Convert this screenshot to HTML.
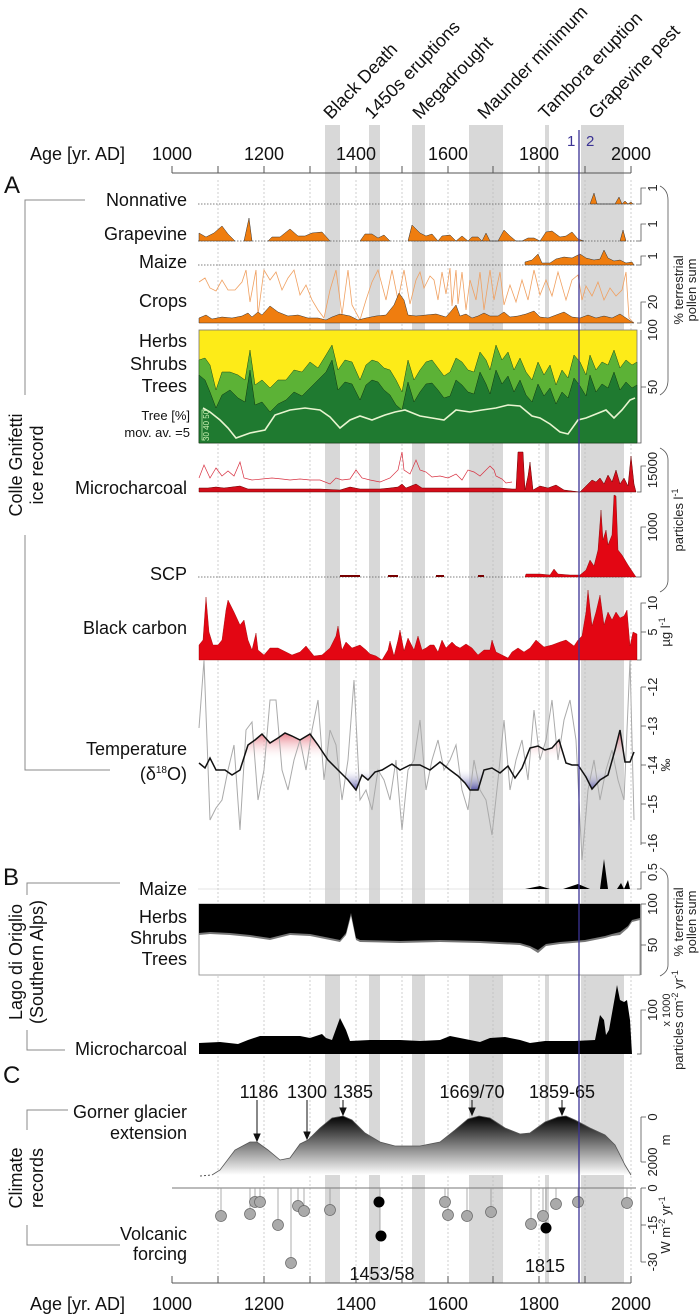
<!DOCTYPE html>
<html><head><meta charset="utf-8"><style>
html,body{margin:0;padding:0;background:#fff}
svg{display:block;font-family:"Liberation Sans",Arial,sans-serif}
</style></head><body>
<svg width="700" height="1316" viewBox="0 0 700 1316" xmlns="http://www.w3.org/2000/svg">
<defs>
<linearGradient id="gl" x1="0" y1="0" x2="0" y2="1"><stop offset="0" stop-color="#000"/><stop offset="1" stop-color="#fff"/></linearGradient>
<linearGradient id="rd" x1="0" y1="0" x2="0" y2="1"><stop offset="0" stop-color="#e05060" stop-opacity="0.9"/><stop offset="1" stop-color="#fff" stop-opacity="0"/></linearGradient>
<linearGradient id="bl" x1="0" y1="1" x2="0" y2="0"><stop offset="0" stop-color="#4a48a0" stop-opacity="0.9"/><stop offset="1" stop-color="#fff" stop-opacity="0"/></linearGradient>
</defs>
<!-- bands -->
<g fill="#d8d8d8">
<rect x="325" y="125" width="15" height="1158"/>
<rect x="369" y="125" width="11" height="1158"/>
<rect x="412" y="125" width="13" height="1158"/>
<rect x="469" y="125" width="34" height="1158"/>
<rect x="545" y="125" width="4" height="1158"/>
<rect x="581" y="125" width="43" height="1158"/>
</g>
<!-- event labels -->
<g font-size="18" fill="#111">
<text transform="translate(331,120) rotate(-46)">Black Death</text>
<text transform="translate(372,120) rotate(-46)">1450s eruptions</text>
<text transform="translate(420,120) rotate(-46)">Megadrought</text>
<text transform="translate(485,120) rotate(-46)">Maunder minimum</text>
<text transform="translate(546,120) rotate(-46)">Tambora eruption</text>
<text transform="translate(596,120) rotate(-46)">Grapevine pest</text>
</g>
<!-- grid -->
<g stroke="#bbb" stroke-width="0.7" stroke-dasharray="2,2">
<line x1="218" y1="180" x2="218" y2="1283"/><line x1="264" y1="180" x2="264" y2="1283"/><line x1="310" y1="180" x2="310" y2="1283"/><line x1="356" y1="180" x2="356" y2="1283"/><line x1="402" y1="180" x2="402" y2="1283"/><line x1="448" y1="180" x2="448" y2="1283"/><line x1="493" y1="180" x2="493" y2="1283"/><line x1="539" y1="180" x2="539" y2="1283"/><line x1="585" y1="180" x2="585" y2="1283"/><line x1="631" y1="180" x2="631" y2="1283"/>
</g>
<!-- top axis -->
<g font-size="18" fill="#111">
<text x="30" y="160">Age [yr. AD]</text>
<text x="172" y="160" text-anchor="middle">1000</text><text x="264" y="160" text-anchor="middle">1200</text><text x="356" y="160" text-anchor="middle">1400</text><text x="448" y="160" text-anchor="middle">1600</text><text x="539" y="160" text-anchor="middle">1800</text><text x="631" y="160" text-anchor="middle">2000</text>
</g>
<g stroke="#555" stroke-width="1"><line x1="172" y1="173" x2="631" y2="173"/>
<line x1="172" y1="166" x2="172" y2="173"/><line x1="218" y1="166" x2="218" y2="173"/><line x1="264" y1="166" x2="264" y2="173"/><line x1="310" y1="166" x2="310" y2="173"/><line x1="356" y1="166" x2="356" y2="173"/><line x1="402" y1="166" x2="402" y2="173"/><line x1="448" y1="166" x2="448" y2="173"/><line x1="493" y1="166" x2="493" y2="173"/><line x1="539" y1="166" x2="539" y2="173"/><line x1="585" y1="166" x2="585" y2="173"/><line x1="631" y1="166" x2="631" y2="173"/></g>
<text x="567" y="146" font-size="15" fill="#3b3394">1</text><text x="586" y="146" font-size="15" fill="#3b3394">2</text>
<text x="4" y="193" font-size="24" fill="#111">A</text>
<text x="3" y="885" font-size="24" fill="#111">B</text>
<text x="3" y="1083" font-size="24" fill="#111">C</text>

<!-- left labels -->
<g font-size="18" fill="#111" text-anchor="end">
<text x="187" y="206">Nonnative</text>
<text x="187" y="240">Grapevine</text>
<text x="187" y="268">Maize</text>
<text x="187" y="307">Crops</text>
<text x="187" y="347">Herbs</text>
<text x="187" y="370">Shrubs</text>
<text x="187" y="392">Trees</text>
<text x="190" y="420" font-size="13">Tree [%]</text>
<text x="190" y="437" font-size="13">mov. av. =5</text>
<text x="187" y="494">Microcharcoal</text>
<text x="187" y="580">SCP</text>
<text x="187" y="634">Black carbon</text>
<text x="187" y="755">Temperature</text>
<text x="187" y="780">(δ<tspan font-size="10" dy="-7">18</tspan><tspan dy="7">O)</tspan></text>
<text x="187" y="895">Maize</text>
<text x="187" y="923">Herbs</text>
<text x="187" y="944">Shrubs</text>
<text x="187" y="965">Trees</text>
<text x="187" y="1055">Microcharcoal</text>
<text x="187" y="1118">Gorner glacier</text>
<text x="187" y="1139">extension</text>
<text x="187" y="1240">Volcanic</text>
<text x="187" y="1260">forcing</text>
</g>
<!-- left brackets -->
<g stroke="#888" stroke-width="1" fill="none">
<polyline points="85,200 25,200 25,395"/><polyline points="25,535 25,770 110,770"/>
<polyline points="120,883 27,883 27,895"/><polyline points="27,1030 27,1050 65,1050"/>
<polyline points="68,1110 27,1110 27,1130"/><polyline points="27,1225 27,1245 120,1245"/>
</g>
<g font-size="18" fill="#111" text-anchor="middle">
<text transform="translate(22,465) rotate(-90)">Colle Gnifetti</text>
<text transform="translate(43,465) rotate(-90)">ice record</text>
<text transform="translate(22,962) rotate(-90)">Lago di Origlio</text>
<text transform="translate(43,962) rotate(-90)">(Southern Alps)</text>
<text transform="translate(22,1178) rotate(-90)">Climate</text>
<text transform="translate(43,1178) rotate(-90)">records</text>
</g>

<!-- baselines dotted -->
<g stroke="#555" stroke-width="0.8" stroke-dasharray="1.5,1.5">
<line x1="198" y1="204" x2="637" y2="204"/><line x1="198" y1="241" x2="637" y2="241"/><line x1="198" y1="265" x2="637" y2="265"/><line x1="198" y1="577" x2="637" y2="577"/>
</g>
<!-- Nonnative -->
<path d="M590,204 L594,193 L597,204 L615,204 L619,197 L622,204 L625,201 L628,204 L631,202 L633,204Z" fill="#ef7d0f" stroke="#333" stroke-width="0.5"/>
<!-- Grapevine -->
<path fill="#ef7d0f" stroke="#333" stroke-width="0.5" d="M199,241 L199,233 L206,237 L214,233 L222,226 L228,234 L235,241Z M244,241 L249,218 L252,241Z M268,241 L272,237 L280,237 L290,229 L298,236 L305,236 L312,233 L322,232 L330,241Z M360,241 L365,234 L372,234 L378,238 L384,235 L390,241Z M408,241 L412,225 L420,233 L426,236 L432,234 L438,241 L442,236 L450,235 L456,241 L462,236 L468,241 L472,237 L478,237 L482,241 L486,233 L490,241 L498,241 L504,230 L510,236 L516,241 L522,241 L528,238 L534,238 L540,241 L546,232 L552,231 L560,237 L566,236 L572,232 L578,239 L584,241Z M620,241 L623,230 L626,241Z"/>
<!-- Maize A -->
<path fill="#ef7d0f" stroke="#333" stroke-width="0.5" d="M525,265 L525,262 L532,260 L538,254 L542,263 L550,263 L556,259 L564,257 L572,258 L580,254 L586,258 L594,260 L600,259 L604,250 L608,258 L614,261 L620,260 L626,263 L632,262 L634,265Z"/>
<!-- Crops -->
<polyline fill="none" stroke="#f0a060" stroke-width="0.8" points="199,282 205,278 210,288 216,291 222,280 228,290 235,290 242,282 246,270 250,302 256,270 258,315 264,270 270,280 276,272 282,290 288,278 294,270 300,295 306,285 312,300 318,310 324,318 330,290 336,270 342,315 348,270 352,305 360,320 366,300 372,282 378,270 386,300 392,270 398,300 404,270 410,304 416,280 420,272 424,288 430,276 434,280 438,300 442,272 446,294 450,268 452,306 456,270 458,304 462,272 466,310 470,280 476,300 480,272 484,310 490,270 494,300 500,272 504,305 510,285 516,302 522,280 528,300 534,270 540,295 546,280 552,296 558,272 566,300 572,280 578,275 582,300 586,286 592,296 598,282 604,300 610,288 616,296 622,290 626,272 629,318 634,323"/>
<path fill="#ef7d0f" stroke="#333" stroke-width="0.5" d="M199,323 L199,318 L206,315 L212,319 L222,317 L232,318 L242,316 L248,313 L252,317 L258,312 L262,315 L270,306 L278,312 L288,316 L298,315 L308,318 L318,318 L326,320 L332,317 L340,314 L350,316 L358,320 L366,318 L376,316 L386,315 L394,305 L399,293 L404,300 L408,315 L416,316 L426,315 L436,314 L446,317 L452,310 L456,305 L460,316 L466,314 L472,318 L478,316 L484,313 L490,316 L498,316 L504,312 L510,317 L518,316 L526,314 L534,311 L540,317 L548,318 L556,315 L564,312 L572,317 L580,318 L588,315 L596,318 L604,316 L612,318 L620,314 L626,318 L632,322 L634,323Z"/>
<!-- Pollen A -->
<rect x="199" y="330" width="438" height="113" fill="#fdeb18" stroke="#777" stroke-width="0.8"/>
<polygon fill="#5cb236" stroke="#1a4a1a" stroke-width="0.5" points="199,443 199,360 205,358 210,365 216,390 222,372 230,372 238,375 245,380 250,350 255,385 262,380 270,388 278,380 286,380 294,370 302,372 310,362 318,368 326,355 332,345 338,370 345,360 352,362 360,380 366,365 372,360 378,362 384,368 390,370 396,380 402,392 408,360 414,380 420,370 426,362 432,360 438,368 444,376 450,372 456,358 462,362 468,370 474,372 480,352 486,360 490,370 496,345 502,360 508,352 514,370 520,358 526,372 532,380 538,362 544,375 550,365 556,385 562,370 568,378 574,355 580,362 586,375 590,355 596,370 602,362 608,365 614,350 620,368 626,360 632,365 637,362 637,443"/>
<polygon fill="#1f7a30" stroke="#103510" stroke-width="0.5" points="199,443 199,375 205,380 210,392 216,408 222,395 230,390 238,398 245,402 250,370 255,405 262,402 270,412 278,404 286,400 294,392 302,396 310,388 318,380 326,372 332,360 338,390 345,382 352,384 360,400 366,385 372,380 378,382 384,390 390,395 396,405 402,410 408,382 414,402 420,392 426,384 432,383 438,390 444,398 450,396 456,380 462,385 468,392 474,394 480,372 486,384 490,394 496,370 502,384 508,376 514,392 520,380 526,395 532,402 538,384 544,396 550,388 556,404 562,392 568,398 574,378 580,386 586,396 590,375 596,392 602,384 608,388 614,372 620,390 626,382 632,388 637,385 637,443"/>
<polyline fill="none" stroke="#e8f5d0" stroke-width="1.6" points="203,408 210,412 220,420 228,428 236,438 250,433 265,430 275,415 290,410 305,408 320,410 330,417 340,428 350,420 360,416 372,420 385,415 395,412 405,410 420,416 432,418 444,420 456,410 470,412 482,410 496,408 508,405 520,406 532,416 540,418 550,424 560,432 568,434 578,420 586,418 596,414 606,410 614,418 622,410 630,400 635,398"/>
<g stroke="#c8f0b0" stroke-width="0.7" fill="none"><polyline points="205,410 202,410 202,440 205,440"/></g>
<text transform="translate(209,441) rotate(-90)" font-size="8" fill="#c8f0b0">30 40 50</text>
<!-- Microcharcoal A -->
<polyline fill="none" stroke="#d83040" stroke-width="0.7" points="199,478 204,465 210,478 216,468 222,476 228,471 234,476 240,462 244,478 252,480 262,479 272,478 282,479 290,480 300,479 310,480 320,480 330,484 336,478 342,480 350,479 356,470 362,478 370,480 380,482 390,478 398,470 402,452 404,470 410,474 416,460 420,470 426,472 432,477 440,476 448,478 456,474 462,480 468,470 474,472 480,476 486,470 490,466 494,470 496,476 502,479 506,483 512,482"/>
<path fill="#d40d1a" stroke="#600" stroke-width="0.5" d="M199,492 L199,488 L208,488 L216,487 L224,488 L232,487 L240,486 L248,489 L260,489 L280,489 L300,489 L320,489 L340,490 L350,487 L360,489 L380,489 L390,488 L398,487 L402,484 L406,488 L416,484 L422,488 L440,488 L460,488 L480,488 L500,488 L512,489 L516,489 L518,452 L523,452 L525,490 L528,476 L530,462 L533,490 L540,486 L548,488 L556,485 L564,490 L572,491 L580,492 L586,486 L592,480 L596,482 L600,478 L604,484 L608,475 L612,482 L616,470 L620,484 L624,478 L628,486 L631,456 L634,484 L636,492Z"/>
<!-- SCP -->
<path fill="#e30613" stroke="#700" stroke-width="0.4" d="M525,577 L526,574 L540,574 L550,575 L554,569 L558,574 L570,575 L580,575 L586,570 L590,560 L594,566 L598,550 L601,510 L603,540 L606,530 L608,545 L612,535 L614,495 L616,496 L618,550 L622,555 L628,565 L634,574 L636,577Z"/>
<g fill="#700"><rect x="340" y="575" width="20" height="2"/><rect x="388" y="575" width="10" height="2"/><rect x="436" y="575" width="8" height="2"/><rect x="478" y="575" width="6" height="2"/></g>
<!-- Black carbon -->
<path fill="#e30613" stroke="#900" stroke-width="0.4" d="M199,660 L199,645 L203,640 L206,597 L209,632 L213,645 L218,645 L222,640 L226,610 L228,600 L234,612 L240,625 L244,620 L248,640 L252,650 L256,633 L258,650 L264,655 L270,648 L278,648 L286,652 L292,655 L300,652 L306,646 L314,656 L322,655 L330,648 L336,636 L338,626 L342,650 L346,642 L352,648 L360,645 L366,650 L370,654 L376,656 L382,660 L388,650 L390,641 L394,656 L398,640 L400,630 L404,651 L408,638 L414,650 L418,636 L422,650 L426,648 L430,645 L434,645 L438,652 L442,640 L446,648 L452,642 L456,646 L460,648 L466,644 L472,648 L478,655 L484,650 L490,650 L492,640 L496,652 L502,655 L508,658 L512,652 L518,648 L524,652 L530,648 L536,640 L544,647 L552,645 L560,642 L566,640 L574,646 L578,640 L582,636 L586,612 L588,590 L592,626 L596,612 L600,595 L604,625 L608,612 L612,620 L616,612 L620,618 L624,616 L627,610 L630,646 L633,632 L637,634 L637,660Z"/>
<!-- Temperature -->
<path fill="url(#rd)" d="M244,760 L248,745 L255,740 L262,734 L270,743 L278,738 L285,733 L292,736 L300,740 L310,734 L318,745 L326,760Z M530,760 L530,748 L538,746 L545,750 L552,748 L559,740 L564,760Z M614,760 L615,750 L620,730 L624,760Z"/>
<path fill="url(#bl)" d="M340,768 L348,780 L356,790 L362,775 L368,780 L375,772 L378,768Z M455,768 L458,776 L465,783 L470,790 L478,790 L484,770 L486,768Z M580,768 L586,777 L592,789 L600,780 L608,775 L612,768Z"/>
<polyline fill="none" stroke="#aaa" stroke-width="1" points="199,728 204,660 210,820 216,808 222,800 228,770 234,745 240,830 246,730 252,722 258,800 264,770 270,700 276,700 282,770 288,790 294,760 300,740 306,770 312,730 318,700 324,780 330,730 336,745 342,800 348,760 354,680 360,800 366,790 372,810 378,770 384,780 390,800 396,760 402,830 408,770 414,760 420,720 426,790 432,760 438,740 444,770 450,760 456,745 462,790 468,810 474,760 480,790 486,800 492,835 498,780 504,720 510,790 516,760 522,740 528,780 534,710 540,760 546,740 552,700 558,760 564,720 570,700 576,740 582,860 588,790 594,760 600,800 606,770 612,750 618,780 624,800 630,660 634,820"/>
<polyline fill="none" stroke="#111" stroke-width="1.5" points="199,763 205,768 210,758 216,770 225,770 232,775 240,770 248,745 255,740 262,734 270,743 278,738 285,733 292,736 300,740 310,734 318,745 328,760 338,770 348,780 356,790 362,775 368,780 375,772 382,770 392,764 400,770 410,765 420,765 430,770 440,762 450,770 458,776 465,783 470,790 478,790 484,770 492,768 500,773 508,766 515,778 522,768 530,748 538,746 545,750 552,748 559,740 566,763 572,765 578,765 586,777 592,789 600,780 608,775 615,750 620,730 625,762 630,762 634,752"/>
<!-- B Maize -->
<line x1="198" y1="889" x2="637" y2="889" stroke="#ccc" stroke-width="0.6"/>
<path fill="#000" d="M525,889 L540,886 L550,889 L563,889 L578,884 L590,889 L600,889 L604,859 L608,889 L617,889 L621,883 L624,889 L628,880 L630,889Z"/>
<!-- B pollen -->
<rect x="199" y="904" width="441" height="71" fill="#fff" stroke="#888" stroke-width="0.8"/>
<polygon fill="#777" points="199,904 640,904 640,920 632,922 628,928 620,935 612,936 605,938 595,940 585,942 560,944 546,946 538,953 530,948 520,945 480,943 440,942 400,943 360,942 356,940 351,916 346,935 340,942 310,936 290,935 270,940 250,937 230,935 210,934 199,935"/>
<polygon fill="#000" points="199,904 640,904 640,918 632,920 628,926 620,932 612,934 605,936 595,938 585,940 560,942 546,944 538,950 530,946 520,943 480,941 440,940 400,941 360,940 356,938 351,913 346,933 340,940 310,934 290,933 270,938 250,935 230,933 210,932 199,933"/>
<!-- B microcharcoal -->
<path fill="#000" d="M199,1054 L199,1043 L220,1042 L238,1044 L248,1040 L260,1036 L280,1036 L300,1036 L310,1038 L322,1034 L326,1038 L332,1040 L340,1018 L346,1030 L350,1041 L370,1040 L400,1040 L420,1041 L440,1040 L450,1036 L460,1038 L480,1042 L490,1038 L505,1037 L520,1040 L530,1043 L545,1041 L560,1041 L575,1041 L595,1040 L600,1015 L604,1020 L606,1035 L609,1030 L614,1002 L617,985 L620,1000 L624,1002 L627,1000 L630,1020 L632,1054Z"/>
<!-- Glacier -->
<path fill="url(#gl)" d="M212,1175 L220,1170 L235,1150 L250,1142 L257,1142 L268,1150 L280,1160 L290,1158 L300,1144 L308,1140 L320,1128 L332,1118 L343,1116 L352,1120 L365,1133 L380,1142 L395,1146 L420,1146 L440,1142 L455,1130 L468,1119 L479,1116 L490,1118 L505,1128 L520,1134 L530,1133 L545,1122 L558,1117 L566,1116 L575,1120 L590,1128 L605,1135 L615,1145 L625,1165 L631,1175Z"/>
<path fill="none" stroke="#555" stroke-width="0.8" d="M212,1175 L220,1170 L235,1150 L250,1142 L257,1142 L268,1150 L280,1160 L290,1158 L300,1144 L308,1140 L320,1128 L332,1118 L343,1116 L352,1120 L365,1133 L380,1142 L395,1146 L420,1146 L440,1142 L455,1130 L468,1119 L479,1116 L490,1118 L505,1128 L520,1134 L530,1133 L545,1122 L558,1117 L566,1116 L575,1120 L590,1128 L605,1135 L615,1145 L625,1165 L631,1175"/>
<line x1="200" y1="1176" x2="212" y2="1175" stroke="#555" stroke-dasharray="2,2"/>
<g stroke="#111" stroke-width="1" fill="#111">
<line x1="257" y1="1100" x2="257" y2="1138"/><polygon points="254,1134 260,1134 257,1141"/>
<line x1="307" y1="1100" x2="307" y2="1136"/><polygon points="304,1132 310,1132 307,1139"/>
<line x1="343" y1="1100" x2="343" y2="1112"/><polygon points="340,1108 346,1108 343,1115"/>
<line x1="472" y1="1100" x2="472" y2="1112"/><polygon points="469,1108 475,1108 472,1115"/>
<line x1="562" y1="1100" x2="562" y2="1112"/><polygon points="559,1108 565,1108 562,1115"/>
</g>
<g font-size="18" fill="#111" text-anchor="middle">
<text x="259" y="1098">1186</text><text x="307" y="1098">1300</text><text x="353" y="1098">1385</text><text x="472" y="1098">1669/70</text><text x="562" y="1098">1859-65</text>
<text x="382" y="1280">1453/58</text><text x="545" y="1272">1815</text>
</g>
<!-- Volcanic -->
<line x1="172" y1="1188" x2="636" y2="1188" stroke="#777" stroke-width="1"/>
<g stroke="#999" stroke-width="0.8">
<line x1="221" y1="1188" x2="221" y2="1216"/><line x1="255" y1="1188" x2="255" y2="1202"/><line x1="250" y1="1188" x2="250" y2="1214"/><line x1="260" y1="1188" x2="260" y2="1202"/><line x1="278" y1="1188" x2="278" y2="1225"/><line x1="291" y1="1188" x2="291" y2="1263"/><line x1="298" y1="1188" x2="298" y2="1206"/><line x1="304" y1="1188" x2="304" y2="1211"/><line x1="330" y1="1188" x2="330" y2="1210"/><line x1="380" y1="1188" x2="380" y2="1236"/><line x1="445" y1="1188" x2="445" y2="1202"/><line x1="448" y1="1188" x2="448" y2="1215"/><line x1="467" y1="1188" x2="467" y2="1216"/><line x1="491" y1="1188" x2="491" y2="1212"/><line x1="531" y1="1188" x2="531" y2="1224"/><line x1="543" y1="1188" x2="543" y2="1216"/><line x1="546" y1="1188" x2="546" y2="1228"/><line x1="556" y1="1188" x2="556" y2="1204"/><line x1="578" y1="1188" x2="578" y2="1202"/><line x1="627" y1="1188" x2="627" y2="1203"/>
</g>
<g fill="#aaa" stroke="#666" stroke-width="0.7">
<circle cx="221" cy="1216" r="5.5"/><circle cx="255" cy="1202" r="5.5"/><circle cx="250" cy="1214" r="5.5"/><circle cx="260" cy="1202" r="5.5"/><circle cx="278" cy="1225" r="5.5"/><circle cx="291" cy="1263" r="5.5"/><circle cx="298" cy="1206" r="5.5"/><circle cx="304" cy="1211" r="5.5"/><circle cx="330" cy="1210" r="5.5"/><circle cx="445" cy="1202" r="5.5"/><circle cx="448" cy="1215" r="5.5"/><circle cx="467" cy="1216" r="5.5"/><circle cx="491" cy="1212" r="5.5"/><circle cx="531" cy="1224" r="5.5"/><circle cx="543" cy="1216" r="5.5"/><circle cx="556" cy="1204" r="5.5"/><circle cx="578" cy="1202" r="5.5"/><circle cx="627" cy="1203" r="5.5"/>
</g>
<g fill="#000"><circle cx="379" cy="1202" r="5.5"/><circle cx="381" cy="1236" r="5.5"/><circle cx="546" cy="1228" r="5.5"/></g>
<!-- blue line -->
<line x1="579" y1="130" x2="579" y2="1283" stroke="#3b3394" stroke-width="1.3"/>
<!-- bottom axis -->
<g stroke="#555" stroke-width="1"><line x1="172" y1="1283" x2="631" y2="1283"/>
<line x1="172" y1="1276" x2="172" y2="1283"/><line x1="218" y1="1276" x2="218" y2="1283"/><line x1="264" y1="1276" x2="264" y2="1283"/><line x1="310" y1="1276" x2="310" y2="1283"/><line x1="356" y1="1276" x2="356" y2="1283"/><line x1="402" y1="1276" x2="402" y2="1283"/><line x1="448" y1="1276" x2="448" y2="1283"/><line x1="493" y1="1276" x2="493" y2="1283"/><line x1="539" y1="1276" x2="539" y2="1283"/><line x1="585" y1="1276" x2="585" y2="1283"/><line x1="631" y1="1276" x2="631" y2="1283"/></g>
<g font-size="18" fill="#111">
<text x="30" y="1310">Age [yr. AD]</text>
<text x="172" y="1310" text-anchor="middle">1000</text><text x="264" y="1310" text-anchor="middle">1200</text><text x="356" y="1310" text-anchor="middle">1400</text><text x="448" y="1310" text-anchor="middle">1600</text><text x="539" y="1310" text-anchor="middle">1800</text><text x="631" y="1310" text-anchor="middle">2000</text>
</g>
<!-- right axes -->
<g stroke="#555" stroke-width="0.8" fill="none">
<polyline points="637,204 641,204 641,188 646,188"/>
<polyline points="637,241 641,241 641,224 646,224"/>
<polyline points="637,265 641,265 641,256 646,256"/>
<polyline points="637,323 641,323 641,302 646,302"/>
<polyline points="641,330 641,443 637,443"/><line x1="641" y1="387" x2="646" y2="387"/>
<polyline points="637,492 641,492 641,466 646,466"/>
<polyline points="637,577 641,577 641,527 646,527"/>
<polyline points="637,660 641,660 641,603 646,603"/><line x1="641" y1="632" x2="646" y2="632"/>
<polyline points="641,687 641,845"/><line x1="641" y1="687" x2="646" y2="687"/><line x1="641" y1="726" x2="646" y2="726"/><line x1="641" y1="765" x2="646" y2="765"/><line x1="641" y1="804" x2="646" y2="804"/><line x1="641" y1="843" x2="646" y2="843"/>
<polyline points="637,889 641,889 641,872 646,872"/>
<polyline points="641,904 641,975"/><line x1="641" y1="904" x2="646" y2="904"/><line x1="641" y1="945" x2="646" y2="945"/>
<polyline points="637,1054 641,1054 641,1010 646,1010"/>
<polyline points="641,1117 641,1162"/><line x1="641" y1="1117" x2="646" y2="1117"/><line x1="641" y1="1162" x2="646" y2="1162"/>
<polyline points="641,1188 641,1262"/><line x1="641" y1="1188" x2="646" y2="1188"/><line x1="641" y1="1225" x2="646" y2="1225"/><line x1="641" y1="1262" x2="646" y2="1262"/>
<!-- braces -->
<path d="M660,186 Q668,190 668,200 L668,380 Q668,390 660,395"/>
<path d="M660,448 Q668,452 668,460 L668,580 Q668,588 660,592"/>
<path d="M660,868 Q668,872 668,880 L668,965 Q668,972 660,976"/>
</g>
<g font-size="13" fill="#222" text-anchor="middle">
<text transform="translate(657,188) rotate(-90)">1</text>
<text transform="translate(657,224) rotate(-90)">1</text>
<text transform="translate(657,256) rotate(-90)">1</text>
<text transform="translate(657,302) rotate(-90)">20</text>
<text transform="translate(657,330) rotate(-90)">100</text>
<text transform="translate(657,387) rotate(-90)">50</text>
<text transform="translate(657,470) rotate(-90)">15000</text>
<text transform="translate(657,527) rotate(-90)">1000</text>
<text transform="translate(657,603) rotate(-90)">10</text>
<text transform="translate(657,632) rotate(-90)">5</text>
<text transform="translate(657,687) rotate(-90)">-12</text>
<text transform="translate(657,726) rotate(-90)">-13</text>
<text transform="translate(657,765) rotate(-90)">-14</text>
<text transform="translate(657,804) rotate(-90)">-15</text>
<text transform="translate(657,843) rotate(-90)">-16</text>
<text transform="translate(657,872) rotate(-90)">0.5</text>
<text transform="translate(657,904) rotate(-90)">100</text>
<text transform="translate(657,945) rotate(-90)">50</text>
<text transform="translate(657,1010) rotate(-90)">100</text>
<text transform="translate(657,1117) rotate(-90)">0</text>
<text transform="translate(657,1162) rotate(-90)">2000</text>
<text transform="translate(657,1188) rotate(-90)">0</text>
<text transform="translate(657,1225) rotate(-90)">-15</text>
<text transform="translate(657,1262) rotate(-90)">-30</text>
<text transform="translate(670,632) rotate(-90)">µg l<tspan font-size="9" dy="-5">-1</tspan></text>
<text transform="translate(670,765) rotate(-90)">‰</text>
<text transform="translate(670,1010) rotate(-90)" font-size="11">x 1000</text>
<text transform="translate(670,1140) rotate(-90)">m</text>
<text transform="translate(670,1225) rotate(-90)">W m<tspan font-size="9" dy="-5">-2</tspan><tspan dy="5"> yr</tspan><tspan font-size="9" dy="-5">-1</tspan></text>
<text transform="translate(683,290) rotate(-90)">% terrestrial</text>
<text transform="translate(696,290) rotate(-90)">pollen sum</text>
<text transform="translate(683,520) rotate(-90)">particles l<tspan font-size="9" dy="-5">-1</tspan></text>
<text transform="translate(683,922) rotate(-90)">% terrestrial</text>
<text transform="translate(696,922) rotate(-90)">pollen sum</text>
<text transform="translate(683,1020) rotate(-90)">particles cm<tspan font-size="9" dy="-5">-2</tspan><tspan dy="5"> yr</tspan><tspan font-size="9" dy="-5">-1</tspan></text>
</g>
</svg>
</body></html>
